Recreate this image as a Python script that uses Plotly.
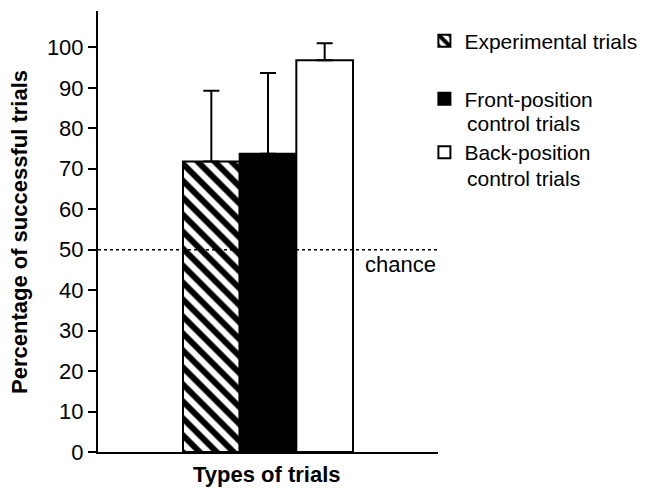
import plotly.graph_objects as go

categories = ["Experimental trials", "Front-position", "Back-position"]
category_second_lines = ["", "control trials", "control trials"]
positions = [0, 1, 2]
means = [71.8, 73.7, 96.8]
errors_up = [17.5, 20.0, 4.2]
y_ticks = [0, 10, 20, 30, 40, 50, 60, 70, 80, 90, 100]
chance_level = 50

fills = ["white", "black", "white"]
patterns = [dict(shape="\\", fgcolor="black", bgcolor="white", fgopacity=1, size=12, solidity=0.5),
            dict(shape=""), dict(shape="")]

FONT = "Liberation Sans, Arial, Helvetica, sans-serif"
legend_names = ["legend", "legend2", "legend3"]
legend_y = [0.932, 0.8005, 0.679]
second_line_y = [None, 0.744, 0.621]

fig = go.Figure()
for i in range(3):
    fig.add_trace(go.Bar(
        x=[positions[i]], y=[means[i]], name=categories[i], width=1.0,
        marker=dict(color=fills[i], line=dict(color="black", width=2), pattern=patterns[i]),
        error_y=dict(type="data", symmetric=False, array=[errors_up[i]], arrayminus=[0],
                     color="black", thickness=2, width=8),
        legend=legend_names[i],
    ))
    if category_second_lines[i]:
        fig.add_annotation(xref="paper", yref="paper", x=1.079, y=second_line_y[i],
                           text=category_second_lines[i], showarrow=False,
                           xanchor="left", yanchor="middle", font=dict(size=21, color="black"))

fig.add_shape(type="line", xref="paper", x0=0, x1=1, yref="y", y0=chance_level, y1=chance_level,
              line=dict(color="black", width=1.5, dash="dot"))
fig.add_annotation(xref="paper", x=1, yref="y", y=chance_level, text="chance", showarrow=False,
                   xanchor="right", yanchor="top", font=dict(size=22, color="black"))

# axis titles
fig.add_annotation(xref="paper", yref="paper", x=0.497, y=-0.052, text="<b>Types of trials</b>",
                   showarrow=False, xanchor="center", yanchor="middle", font=dict(size=22))
fig.add_annotation(xref="paper", yref="paper", x=-0.2309, y=0.5,
                   text="<b>Percentage of successful trials</b>", textangle=-90,
                   showarrow=False, xanchor="center", yanchor="middle", font=dict(size=22))

leg_common = dict(x=0.96, xanchor="left", yanchor="middle", font=dict(size=21),
                  itemwidth=30, bgcolor="rgba(0,0,0,0)")

fig.update_layout(
    width=638, height=480,
    margin=dict(l=90, r=208, t=3, b=36, autoexpand=False),
    plot_bgcolor="white", paper_bgcolor="white",
    font=dict(family=FONT, size=22, color="black"),
    barmode="overlay",
    showlegend=True,
    legend=dict(y=legend_y[0], **leg_common),
    legend2=dict(y=legend_y[1], **leg_common),
    legend3=dict(y=legend_y[2], **leg_common),
    xaxis=dict(range=[-2, 4.0], showticklabels=False, ticks="", showline=True, linecolor="black",
               linewidth=2, showgrid=False, zeroline=False, automargin=False),
    yaxis=dict(range=[0, 109], tickvals=y_ticks, ticks="outside", ticklen=8, tickwidth=2,
               tickcolor="black", showline=True, linecolor="black", linewidth=2, showgrid=False,
               zeroline=False, tickfont=dict(size=22), automargin=False),
)

fig.write_html("out.html")
